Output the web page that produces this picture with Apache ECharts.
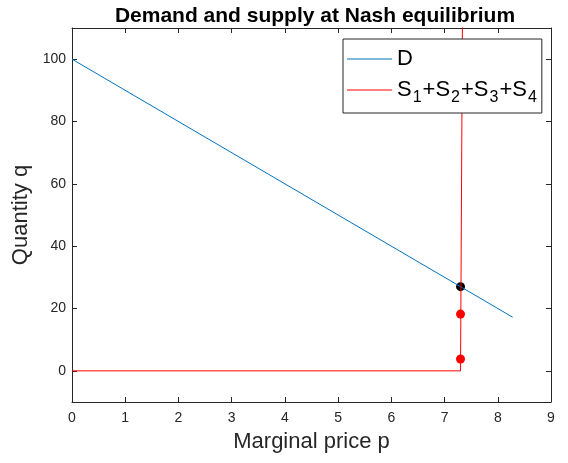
<!DOCTYPE html>
<html>
<head>
<meta charset="utf-8">
<script src="https://cdn.jsdelivr.net/npm/echarts@6/dist/echarts.min.js"></script>
<style>
  html, body { margin: 0; padding: 0; background: #fff; }
  #chart { width: 568px; height: 463px; }
</style>
</head>
<body>
<div id="chart"></div>
<script>
// demand q = 100 - 10p
const demandPoints = [[0, 100], [8.28, 17.2]]
// aggregate supply: flat at 0 then almost vertical
const supplyPoints = [[0, 0], [7.3, 0], [7.34, 125]]
const supplyMarks = [[7.3, 3.8], [7.3, 18.2]]
const equilibrium = [[7.3, 27]]
const xTicks = [0, 1, 2, 3, 4, 5, 6, 7, 8, 9]
const yTicks = [0, 20, 40, 60, 80, 100]

const font = 'Liberation Sans, Arial, Helvetica, sans-serif'
const axisColor = '#262626'

const chart = echarts.init(document.getElementById('chart'))

const boxAxis = {
    type: 'value',
    axisLine: { show: true, onZero: false, lineStyle: { color: axisColor, width: 1 } },
    axisTick: { show: true, inside: true, length: 5, lineStyle: { color: axisColor } },
    splitLine: { show: false }
}

chart.setOption({
    animation: false,
    title: {
        text: 'Demand and supply at Nash equilibrium',
        left: 310,
        top: 1,
        textAlign: 'center',
        textStyle: { fontFamily: font, fontSize: 21, fontWeight: 'bold', color: '#000' }
    },
    legend: {
        orient: 'vertical',
        left: 343,
        top: 39,
        padding: [9, 5, 7, 4],
        itemGap: 9,
        itemWidth: 45,
        itemHeight: 1,
        icon: 'rect',
        backgroundColor: '#fff',
        borderColor: axisColor,
        borderWidth: 1,
        borderRadius: 0,
        data: ['D', 'S'],
        formatter: function (name) {
            if (name === 'D') return '{t|D}'
            return '{t|S}{s|1}{t|+S}{s|2}{t|+S}{s|3}{t|+S}{s|4}'
        },
        textStyle: {
            fontFamily: font,
            color: '#000',
            rich: {
                t: { fontFamily: font, fontSize: 22, color: '#000', height: 24 },
                s: { fontFamily: font, fontSize: 16, color: '#000', height: 24, verticalAlign: 'bottom', padding: [16, 1, 0, 1] }
            }
        }
    },
    grid: { left: 72, right: 17, top: 28, bottom: 61 },
    xAxis: [
        Object.assign({}, boxAxis, {
            min: 0, max: 9, interval: 1,
            name: 'Marginal price p',
            nameLocation: 'middle',
            nameGap: 29,
            nameTextStyle: { fontFamily: font, fontSize: 22, color: axisColor },
            axisTick: Object.assign({}, boxAxis.axisTick, { customValues: xTicks }),
            axisLabel: { fontFamily: font, fontSize: 14, color: axisColor, margin: 9, customValues: xTicks }
        }),
        Object.assign({}, boxAxis, {
            min: 0, max: 9, interval: 1, position: 'top',
            axisTick: Object.assign({}, boxAxis.axisTick, { customValues: xTicks }),
            axisLabel: { show: false }
        })
    ],
    yAxis: [
        Object.assign({}, boxAxis, {
            min: -10, max: 110,
            name: 'Quantity q',
            nameLocation: 'middle',
            nameGap: 35,
            nameTextStyle: { fontFamily: font, fontSize: 22, color: axisColor },
            axisTick: Object.assign({}, boxAxis.axisTick, { customValues: yTicks }),
            axisLabel: { fontFamily: font, fontSize: 14, color: axisColor, margin: 6, customValues: yTicks }
        }),
        Object.assign({}, boxAxis, {
            min: -10, max: 110, position: 'right',
            axisTick: Object.assign({}, boxAxis.axisTick, { customValues: yTicks }),
            axisLabel: { show: false }
        })
    ],
    series: [
        {
            name: 'D',
            type: 'line',
            data: demandPoints,
            showSymbol: false,
            symbol: 'none',
            lineStyle: { color: '#0072BD', width: 1 },
            itemStyle: { color: '#0072BD' },
            clip: true
        },
        {
            name: 'S',
            type: 'line',
            data: supplyPoints,
            showSymbol: false,
            symbol: 'none',
            lineStyle: { color: '#FF0000', width: 1 },
            itemStyle: { color: '#FF0000' },
            clip: true
        },
        {
            name: 'marks',
            type: 'scatter',
            data: supplyMarks,
            symbolSize: 9,
            itemStyle: { color: '#FF0000', opacity: 1 }
        },
        {
            name: 'eq',
            type: 'scatter',
            data: equilibrium,
            symbolSize: 9,
            itemStyle: { color: '#000', opacity: 1 }
        }
    ]
})

window.addEventListener('resize', () => {
    chart.resize()
})
</script>
</body>
</html>
